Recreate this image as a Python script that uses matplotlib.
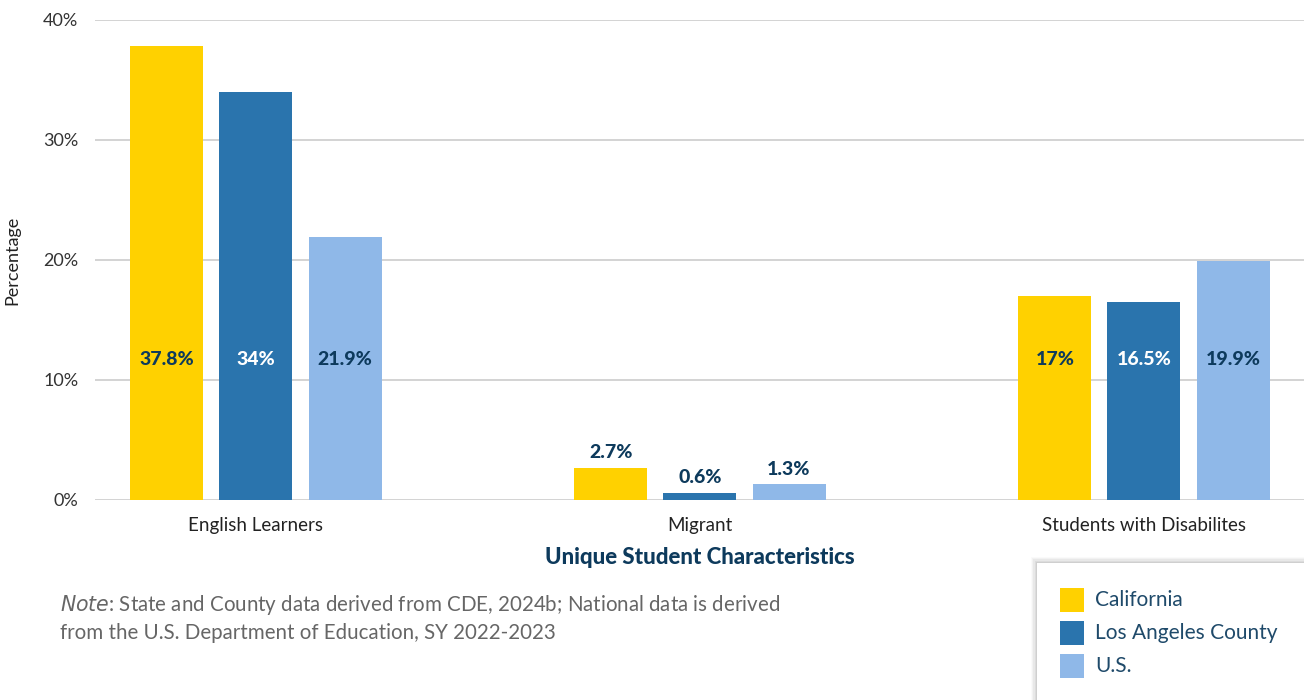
import matplotlib
matplotlib.use("Agg")
import matplotlib.pyplot as plt
from matplotlib.patches import Rectangle
import numpy as np

categories = ["English Learners", "Migrant", "Students with Disabilites"]
series_names = ["California", "Los Angeles County", "U.S."]
california = [37.8, 2.7, 17.0]
los_angeles = [34.0, 0.6, 16.5]
us = [21.9, 1.3, 19.9]
value_labels = [
    ["37.8%", "2.7%", "17%"],
    ["34%", "0.6%", "16.5%"],
    ["21.9%", "1.3%", "19.9%"],
]
y_ticks = [0, 10, 20, 30, 40]
y_tick_labels = ["0%", "10%", "20%", "30%", "40%"]

colors = ["#FFD100", "#2A74AD", "#8FB8E8"]
label_colors = ["#0D3A5C", "#FFFFFF", "#0D3A5C"]
navy = "#0D3A5C"
plt.rcParams["font.family"] = ["Lato", "DejaVu Sans"]

fig = plt.figure(figsize=(13.04, 7.0), dpi=100)
ax = fig.add_axes([95 / 1304, 1 - 500 / 700, 1 - 95 / 1304, 480 / 700])

x = np.arange(len(categories))
width = 0.1644
offset = 0.2005
series = [california, los_angeles, us]
for i, (vals, col) in enumerate(zip(series, colors)):
    pos = x + (i - 1) * offset
    ax.bar(pos, vals, width=width, color=col, zorder=3, label=series_names[i])
    for j, v in enumerate(vals):
        if v > 5:
            ax.text(pos[j], 11.7, value_labels[i][j], ha="center", va="center",
                    fontsize=14, fontweight="black", color=label_colors[i], zorder=4)
        else:
            ax.text(pos[j], v + 0.55, value_labels[i][j], ha="center", va="bottom",
                    fontsize=14, fontweight="black", color=navy, zorder=4)

ax.set_xlim(-0.3626, 2.3604)
ax.set_ylim(0, 40)
ax.set_yticks(y_ticks)
ax.set_yticklabels(y_tick_labels, fontsize=13, color="#333333")
ax.set_xticks(x)
ax.set_xticklabels(categories, fontsize=13.5, color="#222222")
ax.tick_params(axis="x", length=0, pad=12)
ax.tick_params(axis="y", length=0, pad=12)
ax.grid(axis="y", color="#CCCCCC", linewidth=1.2, zorder=0)
for s in ax.spines.values():
    s.set_visible(False)
ax.set_ylabel("Percentage", fontsize=13, color="#222222")
ax.yaxis.set_label_coords(-0.062, 0.5)

fig.text(700 / 1304, 1 - 558 / 700, "Unique Student Characteristics", ha="center",
         va="center", fontsize=16, fontweight="black", color=navy)

fig.text(60 / 1304, 1 - 605 / 700,
         r"$\it{Note}$" + ": State and County data derived from CDE, 2024b; National data is derived",
         ha="left", va="center", fontsize=14.8, color="#666666")
fig.text(60 / 1304, 1 - 633 / 700,
         "from the U.S. Department of Education, SY 2022-2023",
         ha="left", va="center", fontsize=14.8, color="#666666")

# legend panel with a soft shadow
bx0, by0 = 1037 / 1304, 0.0
bw, bh = 1 - bx0 + 0.01, 137 / 700
for k, a in enumerate([0.02, 0.03, 0.04, 0.05, 0.06]):
    d = (5 - k) * 1.2
    fig.patches.append(Rectangle((bx0 - d / 1304, by0), bw, bh + d / 700,
                                 transform=fig.transFigure, facecolor="#000000",
                                 alpha=a, edgecolor="none", zorder=1))
fig.patches.append(Rectangle((bx0, by0), bw, bh, transform=fig.transFigure,
                             facecolor="white", edgecolor="none", zorder=2))
for i, (name, col) in enumerate(zip(series_names, colors)):
    yc = 600 + i * 33
    fig.patches.append(Rectangle((1060 / 1304, 1 - (yc + 12) / 700), 24 / 1304, 24 / 700,
                                 transform=fig.transFigure, facecolor=col,
                                 edgecolor="none", zorder=3))
    fig.text(1095 / 1304, 1 - yc / 700, name, ha="left", va="center",
             fontsize=15, color="#1F4A6A", zorder=4)

fig.savefig("out.png", dpi=100)
